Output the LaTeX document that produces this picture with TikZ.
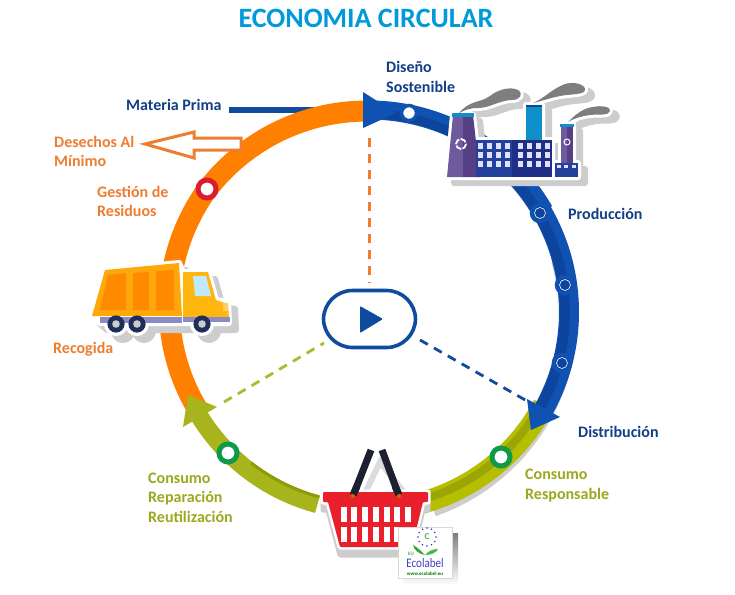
\documentclass[tikz,border=0pt]{standalone}
\usepackage{fontspec}
\setmainfont{Carlito}
\definecolor{navy}{HTML}{0F4C9E}
\definecolor{navytxt}{HTML}{123F85}
\definecolor{blueB}{HTML}{0F52B2}
\definecolor{blueD}{HTML}{0D449E}
\definecolor{orangeB}{HTML}{FF7F00}
\definecolor{orangeT}{HTML}{ED7D31}
\definecolor{oliveR}{HTML}{B6BE00}
\definecolor{oliveD}{HTML}{8F9A08}
\definecolor{oliveL}{HTML}{A7B41C}
\definecolor{oliveT}{HTML}{9CA81E}
\definecolor{dashG}{HTML}{A3BE30}
\definecolor{ringG}{HTML}{0E9A4A}
\definecolor{ringR}{HTML}{DB1B2E}
\definecolor{shade}{HTML}{CDCDD0}
\definecolor{smoke}{HTML}{7E7E7E}
\definecolor{purL}{HTML}{6F5A9E}
\definecolor{purD}{HTML}{563F85}
\definecolor{fblue}{HTML}{23409A}
\definecolor{fblueD}{HTML}{1E2F85}
\definecolor{teal}{HTML}{0F8FC9}
\definecolor{titleC}{HTML}{0099DA}
\definecolor{truckO}{HTML}{FFA80C}
\definecolor{truckD}{HTML}{FF8A00}
\definecolor{truckY}{HTML}{FFB70F}
\definecolor{tyre}{HTML}{1F2F5C}
\definecolor{bred}{HTML}{E9202B}
\definecolor{handle}{HTML}{1C2030}
\newcommand{\band}[5]{\draw[line width=#4,draw=#5] plot[domain=#2:#3,samples=70] ({369+#1*cos(\x)},{312+#1*sin(\x)});}
\newcommand{\factsil}[1]{%
 \path[draw=#1,fill=#1,line width=6,line join=round]
 (453,115)--(473,115)--(480,177)--(447,177)--cycle
 (475,140)--(526,140)--(526,105)--(542,105)--(542,140)--(552,140)--(552,177)--(447,177)--cycle
 (561,125)--(573,125)--(573,163)--(578,163)--(578,177)--(552,177)--(555,163)--(561,163)--cycle
 (459,113) .. controls (470,100) and (480,103) .. (490,96) .. controls (497,90) and (510,86) .. (518,90) .. controls (524,94) and (520,100) .. (512,100) .. controls (500,100) and (490,108) .. (478,108) .. controls (470,108) and (465,110) .. (459,113) -- cycle
 (533,103) .. controls (545,98) and (550,90) .. (565,84) .. controls (575,81) and (586,85) .. (585,90) .. controls (584,95) and (570,94) .. (560,96) .. controls (550,98) and (542,101) .. (533,103) -- cycle
 (568,122) .. controls (575,115) and (583,108) .. (593,107) .. controls (602,105) and (611,107) .. (610,111) .. controls (609,116) and (598,114) .. (590,115) .. controls (582,116) and (575,118) .. (568,122) -- cycle;}
\newcommand{\trucksil}[1]{%
 \path[draw=#1,fill=#1,line width=6,line join=round]
 (105,270)--(179,263)--(183,272)--(208,272)--(216,300)--(228,302)--(229,323)--(100,323)--(92,316)--cycle
 (116,324) circle[radius=9] (137,324) circle[radius=9] (202,324) circle[radius=9];}
\newcommand{\basketsil}[1]{%
 \path[draw=#1,fill=#1,line width=5,line join=round]
 (323,492)--(428,492)--(428,502)--(423,502)--(412,547)--(340,547)--(328,502)--(323,502)--cycle;}
\tikzset{
 lab/.style={anchor=west,align=left,inner sep=0pt,font=\fontsize{16}{19.5}\selectfont\bfseries},
 ringw/.style={circle,fill=white,draw=#1,line width=5,minimum size=18,inner sep=0pt},
 ringt/.style={circle,fill=white,draw=#1,line width=3.5,minimum size=15,inner sep=0pt},
 ringb/.style={circle,fill=blueD,draw=blueB,line width=3.5,minimum size=17,inner sep=0pt},
 dashline/.style={line width=2.8,dash pattern=on 9pt off 7pt}
}
\begin{document}
\begin{tikzpicture}[x=1pt,y=-1pt]
\useasboundingbox (0,0) rectangle (735,594);
\fill[white] (0,0) rectangle (735,594);
% title
\node[inner sep=0pt,text=titleC,font=\fontsize{28}{30}\selectfont\bfseries] (title) at (366,18) {ECONOMIA CIRCULAR};
% raw material line
\coordinate (mpA) at (229,110);
\coordinate (mpB) at (325,110);
\draw[line width=6,draw=navy] (mpA)--(mpB);
% shadow
\draw[line width=18,draw=shade] plot[domain=-15:72,samples=70] ({369+(198+(\x+15)*0.09)*cos(\x)},{312+(198+(\x+15)*0.09)*sin(\x)});
% orange
\draw[line width=21,draw=orangeB] plot[domain=150:217,samples=50] ({369+(197+(\x-150)*0.09)*cos(\x)},{312+(197+(\x-150)*0.09)*sin(\x)});
\draw[line width=21,draw=orangeB] plot[domain=216:269,samples=50] ({369+(203-(\x-216)*0.038)*cos(\x)},{312+(203-(\x-216)*0.038)*sin(\x)});
% olive
\band{198}{28}{76}{22}{oliveR}
\band{195}{28}{76}{8}{oliveD!70!oliveR}
\band{199}{105}{151}{18}{oliveL}
\band{191.5}{105}{128}{3}{oliveD}
\path[fill=oliveL] (188,395)--(217,407)--(183,427)--cycle;
% blue
\band{202}{270}{330}{19}{blueB}
\band{198}{272}{330}{9}{blueD}
\band{200}{-45}{30}{20}{blueB}
\band{196}{-45}{30}{10}{blueD}
\path[fill=blueB] (363,92)--(363,128)--(396,113)--cycle;
\path[fill=blueB] (527,399)--(560,417)--(531,430)--cycle;
% desechos arrow
\path[draw=orangeT,fill=white,line width=3,line join=miter]
 (145,144)--(194,132)--(194,138)--(241,138)--(241,150)--(194,150)--(194,158)--cycle;
% dashed
\node[draw=navy,line width=3.6,rounded corners=29,minimum width=92,minimum height=57,inner sep=0pt,fill=white] (play) at (369.5,319) {};
\path[fill=navy,rounded corners=1] (360,306)--(383,319)--(360,333)--cycle;
\coordinate (dO) at (369.5,138);
\coordinate (dOe) at (369.5,283);
\coordinate (dG) at (224,402);
\coordinate (dGe) at (324,343);
\coordinate (dB) at (527,401);
\coordinate (dBe) at (420,340);
\draw[dashline,draw=orangeT] (dO)--(dOe);
\draw[dashline,draw=dashG] (dG)--(dGe);
\draw[dashline,draw=navy] (dBe)--(dB);
% rings
\node[ringt=blueB] (r1) at (409,113) {};
\node[ringb] (r2) at (540,213) {};
\node[ringb] (r3) at (565,285) {};
\node[ringb] (r4) at (562,363) {};
\foreach \p in {(540,213),(565,285),(562,363)} \draw[white,line width=.6] \p circle[radius=5.5];
\node[ringw=ringG] (r5) at (501,457) {};
\node[ringw=ringG] (r6) at (228,453) {};
\node[ringw=ringR] (r7) at (207,189) {};
% factory
\begin{scope}[shift={(7,6)}]\factsil{shade}\end{scope}
\factsil{white}
\path[fill=smoke] (459,113) .. controls (470,100) and (480,103) .. (490,96) .. controls (497,90) and (510,86) .. (518,90) .. controls (524,94) and (520,100) .. (512,100) .. controls (500,100) and (490,108) .. (478,108) .. controls (470,108) and (465,110) .. (459,113) -- cycle;
\path[fill=smoke] (533,103) .. controls (545,98) and (550,90) .. (565,84) .. controls (575,81) and (586,85) .. (585,90) .. controls (584,95) and (570,94) .. (560,96) .. controls (550,98) and (542,101) .. (533,103) -- cycle;
\path[fill=smoke] (568,122) .. controls (575,115) and (583,108) .. (593,107) .. controls (602,105) and (611,107) .. (610,111) .. controls (609,116) and (598,114) .. (590,115) .. controls (582,116) and (575,118) .. (568,122) -- cycle;
\path[fill=purL] (453,115)--(463,115)--(463,177)--(447,177)--cycle;
\path[fill=purD] (463,115)--(473,115)--(480,177)--(463,177)--cycle;
\fill[teal] (452,113) rectangle (474,117);
\fill[teal] (526,105) rectangle (542,140);
\fill[blueD] (526,105) rectangle (542,107);
\fill[fblue] (476,140) rectangle (512,177);
\fill[fblueD] (512,140) rectangle (552,177);
\foreach \c in {478,487,496,505,518,527,536,545}
 \foreach \r in {143,152,161} \fill[white!88!blue] (\c,\r) rectangle ++(5,6);
\draw[white,line width=1.8,dash pattern=on 6pt off 1.6pt] (461,144) circle[radius=5];
\fill[purL] (561,125) rectangle (573,163);
\fill[purD] (567,125) rectangle (573,163);
\fill[teal] (560,124) rectangle (574,127);
\draw[white,line width=1] (567,142) circle[radius=3];
\fill[fblue] (555,163) rectangle (578,177);
\foreach \c in {557,564,572} \fill[white!88!blue] (\c,165) rectangle ++(4,3);
% truck
\begin{scope}[shift={(7,7)}]\trucksil{shade}\end{scope}
\trucksil{white}
\path[fill=truckO] (105,270)--(179,263)--(182,316)--(92,316)--cycle;
\path[fill=truckD] (108,275)--(126,273)--(126,310)--(100,310)--cycle;
\path[fill=truckD] (133,273)--(149,272)--(149,310)--(133,310)--cycle;
\path[fill=truckD] (156,271)--(174,270)--(174,310)--(156,310)--cycle;
\path[fill=truckY] (183,272)--(208,272)--(216,300)--(228,304)--(229,318)--(183,318)--cycle;
\path[fill=cyan!25!white] (193,276)--(206,276)--(211,296)--(195,296)--cycle;
\fill[yellow!40!orange!60!white] (223,303) rectangle (228,311);
\fill[gray!70!blue!70] (100,317) rectangle (182,323);
\fill[gray!70!blue!70] (183,317) rectangle (230,322);
\foreach \c in {116,137,202} {\fill[tyre] (\c,324) circle[radius=8.6]; \fill[gray!40] (\c,324) circle[radius=3.8];}
% basket
\begin{scope}[shift={(0,8)}]\basketsil{shade}\end{scope}
\draw[line width=6,draw=shade!70] (364,495)--(380,462)--(406,495);
\basketsil{white}
\draw[line width=7,draw=handle] (353,496)--(371,450);
\draw[line width=7,draw=handle] (399,496)--(382,450);
\path[fill=bred,rounded corners=1] (323,492)--(428,492)--(428,502)--(423,502)--(412,547)--(340,547)--(328,502)--(323,502)--cycle;
\draw[line width=7,draw=handle] (353,495)--(357,486);
\draw[line width=7,draw=handle] (399,495)--(395,486);
\fill[orange!80!black] (353,496) circle[radius=2];
\fill[orange!80!black] (399,496) circle[radius=2];
\foreach \i in {0,...,6} {\fill[white] ({340.7+\i*10.7},507) rectangle ++(6,15); \fill[white] ({340.7+\i*10.7},527) rectangle ++(6,15);}
% ecolabel
\fill[shade] (403,533) rectangle (458,585);
\node[draw=gray!30,fill=white,line width=.8,minimum width=54,minimum height=51,inner sep=0pt] (eco) at (425,552.5) {};
\foreach \a in {0,30,...,330} \fill[blue!55!gray] ({427+9*cos(\a)},{537+9*sin(\a)}) circle[radius=.9];
\node[inner sep=0pt,text=gray!60!green,font=\fontsize{9}{9}\selectfont\bfseries] (ecoC) at (427,537) {C};
\path[fill=green!55!black!80] (425,555) .. controls (421,551) and (417,547) .. (413,545) .. controls (414,550) and (419,554) .. (425,555) -- cycle;
\path[fill=green!60!black!70] (425,555) .. controls (429,550) and (434,549) .. (438,549) .. controls (436,553) and (431,555) .. (425,555) -- cycle;
\node[inner sep=0pt,text=gray!60!green,font=\fontsize{5}{5}\selectfont\bfseries] (ecoEU) at (411,554) {EU};
\node[inner sep=0pt,text=blue!50!gray,xscale=.85,font=\fontsize{13}{13}\selectfont] (ecoT) at (425,563) {Ecolabel};
\node[inner sep=0pt,text=green!45!black,font=\fontsize{5}{5}\selectfont\bfseries] (ecoU) at (425,574) {www.ecolabel.eu};
% labels
\node[lab,text=navytxt] (ld) at (386,77) {Diseño\\Sostenible};
\node[lab,text=navytxt] (lp) at (568,214) {Producción};
\node[lab,text=navytxt] (ldi) at (578,432) {Distribución};
\node[lab,text=oliveT] (lc) at (525,485.5) {Consumo\\Responsable};
\node[lab,text=oliveT] (lr) at (148,497.5) {Consumo\\Reparación\\Reutilización};
\node[lab,text=orangeT] (lre) at (53,349) {Recogida};
\node[lab,text=orangeT] (lg) at (97,201.5) {Gestión de\\Residuos};
\node[lab,text=orangeT] (ldm) at (54,151.5) {Desechos Al\\Mínimo};
\node[lab,text=navytxt] (lm) at (126,105) {Materia Prima};
\end{tikzpicture}
\end{document}
